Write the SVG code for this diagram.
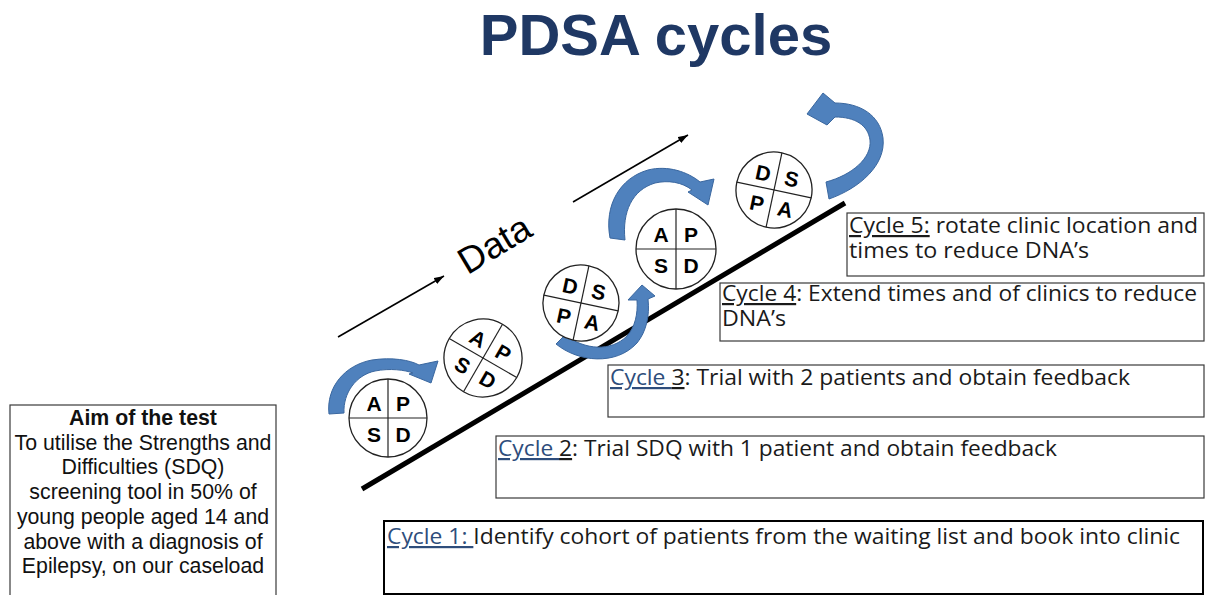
<svg xmlns="http://www.w3.org/2000/svg" width="1206" height="595" viewBox="0 0 1206 595">
<style>
.bg{fill:#fff}
.title{font-family:"Liberation Sans",Arial,sans-serif;font-weight:bold;font-size:58px;fill:#1f3864}
.pd circle{fill:#fff;stroke:#222;stroke-width:1.3}
.pd line{stroke:#222;stroke-width:1.2}
.pd text{font-family:"Liberation Sans",Arial,sans-serif;font-weight:bold;font-size:21px;fill:#000;text-anchor:middle}
.box{fill:#fff;stroke:#3a3a3a;stroke-width:1.2}
.ct{font-family:"Open Sans",Lato,sans-serif;font-size:22px;fill:#1a1a1a}
.cb{fill:#2e4d7b}
.ul{text-decoration:underline}
.aim{font-family:"Liberation Sans",Arial,sans-serif;font-size:21.3px;fill:#111;text-anchor:middle}
.blue{fill:#4f81bd;stroke:#3a679f;stroke-width:1}
.thin{stroke:#000;stroke-width:1.6;fill:none}
</style>
<defs>
<marker id="ah" viewBox="0 0 10 7" refX="10" refY="3.5" markerWidth="10" markerHeight="7" markerUnits="userSpaceOnUse" orient="auto">
<path d="M0,0 L10,3.5 L0,7 Z" fill="#000"/>
</marker>
</defs>
<rect class="bg" x="0" y="0" width="1206" height="595"/>
<text class="title" x="656" y="55" text-anchor="middle">PDSA cycles</text>

<g id="connectors">
<line x1="362" y1="489" x2="845" y2="203" stroke="#000" stroke-width="5"/>
<line class="thin" x1="338" y1="337" x2="444" y2="276" marker-end="url(#ah)"/>
<line class="thin" x1="573" y1="202" x2="688" y2="135" marker-end="url(#ah)"/>
<path class="blue" d="M329,414 C326,387 345,365 372,360 C392,357 410,360 419,365 L438,361 L431,383 L409,374 L413,373 C405,370 390,368 375,371 C356,375 343,393 344,413 Z"/>
<path class="blue" d="M556,344 C578,362 616,366 637,343 C646,332 650,316 648,299 L655,296 L642,285 L628,300 L637,300 C638,314 635,327 627,336 C611,352 585,350 565,335 Z"/>
<path class="blue" d="M610,238 C604,205 620,178 648,170 C668,165 688,172 700,182 L714,179 L708,205 L688,192 L692,190 C682,182 668,180 655,183 C632,190 622,212 625,240 Z"/>
<path class="blue" d="M829,199 C860,188 886,165 883,138 C880,115 860,103 835,103 L823,93 L807,114 L827,125 L835,117 C855,117 868,125 870,140 C872,158 852,175 826,182 Z"/>
<text x="0" y="0" transform="translate(501,255) rotate(-31)" font-family="Liberation Sans,Arial,sans-serif" font-size="37" text-anchor="middle" fill="#000">Data</text>
</g>

<g id="cycle1-wheel" class="pd" transform="translate(388,418)">
<circle r="39"/><line x1="-39" y1="0" x2="39" y2="0"/><line x1="0" y1="-39" x2="0" y2="39"/>
<text x="-14" y="-7">A</text><text x="15" y="-7">P</text><text x="-14" y="24">S</text><text x="15" y="24">D</text>
</g>
<g id="cycle2-wheel" class="pd" transform="translate(483,358) rotate(30)">
<circle r="39"/><line x1="-39" y1="0" x2="39" y2="0"/><line x1="0" y1="-39" x2="0" y2="39"/>
<text x="-14" y="-7">A</text><text x="15" y="-7">P</text><text x="-14" y="24">S</text><text x="15" y="24">D</text>
</g>
<g id="cycle3-wheel" class="pd" transform="translate(581,303) rotate(12)">
<circle r="38"/><line x1="-38" y1="0" x2="38" y2="0"/><line x1="0" y1="-38" x2="0" y2="38"/>
<text x="-14" y="-7">D</text><text x="15" y="-7">S</text><text x="-14" y="24">P</text><text x="15" y="24">A</text>
</g>
<g id="cycle4-wheel" class="pd" transform="translate(676,249)">
<circle r="40"/><line x1="-40" y1="0" x2="40" y2="0"/><line x1="0" y1="-40" x2="0" y2="40"/>
<text x="-15" y="-7">A</text><text x="15" y="-7">P</text><text x="-15" y="24">S</text><text x="15" y="24">D</text>
</g>
<g id="cycle5-wheel" class="pd" transform="translate(774,190) rotate(12)">
<circle r="38"/><line x1="-38" y1="0" x2="38" y2="0"/><line x1="0" y1="-38" x2="0" y2="38"/>
<text x="-14" y="-7">D</text><text x="15" y="-7">S</text><text x="-14" y="24">P</text><text x="15" y="24">A</text>
</g>

<g id="aim">
<rect class="box" x="10" y="405" width="266" height="200"/>
<text class="aim" x="143" y="425" font-weight="bold">Aim of the test</text>
<text class="aim" x="143" y="450">To utilise the Strengths and</text>
<text class="aim" x="143" y="474">Difficulties (SDQ)</text>
<text class="aim" x="143" y="499">screening tool in 50% of</text>
<text class="aim" x="143" y="524">young people aged 14 and</text>
<text class="aim" x="143" y="549">above with a diagnosis of</text>
<text class="aim" x="143" y="573">Epilepsy, on our caseload</text>
</g>

<g id="cycle1">
<rect x="384" y="521" width="819" height="73" fill="#fff" stroke="#000" stroke-width="2"/>
<text class="ct" x="387" y="544" textLength="793" lengthAdjust="spacingAndGlyphs"><tspan class="cb ul">Cycle 1: </tspan>Identify cohort of patients from the waiting list and book into clinic</text>
</g>
<g id="cycle2">
<rect class="box" x="496" y="436" width="708" height="62"/>
<text class="ct" x="498" y="456" textLength="559" lengthAdjust="spacingAndGlyphs"><tspan class="cb ul">Cycle </tspan><tspan class="ul">2</tspan>: Trial SDQ with 1 patient and obtain feedback</text>
</g>
<g id="cycle3">
<rect class="box" x="608" y="365" width="596" height="52"/>
<text class="ct" x="610" y="385" textLength="520" lengthAdjust="spacingAndGlyphs"><tspan class="cb ul">Cycle </tspan><tspan class="ul">3</tspan>: Trial with 2 patients and obtain feedback</text>
</g>
<g id="cycle4">
<rect class="box" x="720" y="283" width="484" height="58"/>
<text class="ct" x="722" y="301" textLength="475" lengthAdjust="spacingAndGlyphs"><tspan class="ul">Cycle 4</tspan>: Extend times and of clinics to reduce</text>
<text class="ct" x="722" y="326" textLength="64" lengthAdjust="spacingAndGlyphs">DNA’s</text>
</g>
<g id="cycle5">
<rect class="box" x="847" y="213" width="357" height="63"/>
<text class="ct" x="849" y="233" textLength="349" lengthAdjust="spacingAndGlyphs"><tspan class="ul">Cycle 5:</tspan> rotate clinic location and</text>
<text class="ct" x="849" y="258" textLength="240" lengthAdjust="spacingAndGlyphs">times to reduce DNA’s</text>
</g>
</svg>
